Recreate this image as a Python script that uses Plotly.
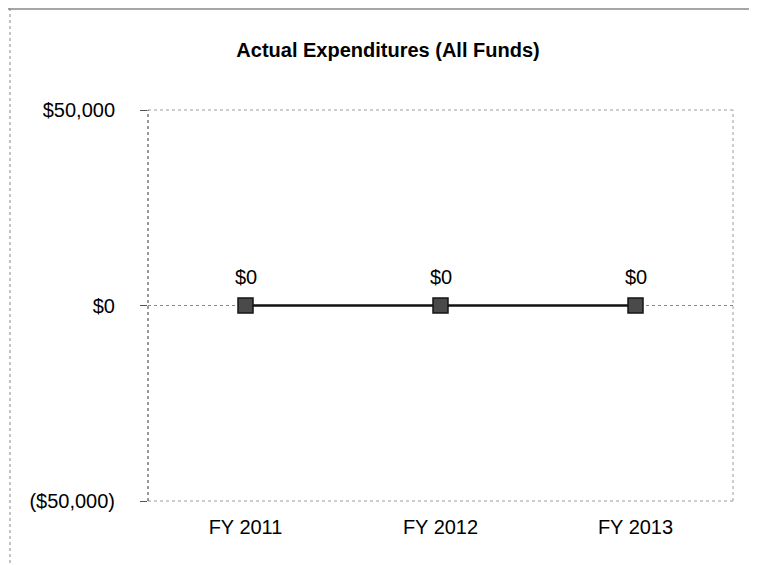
import plotly.graph_objects as go

categories = ["FY 2011", "FY 2012", "FY 2013"]
values = [0, 0, 0]
value_labels = ["$0", "$0", "$0"]
y_tick_vals = [-50000, 0, 50000]
y_tick_text = ["($50,000)", "$0", "$50,000"]
title_text = "<b>Actual Expenditures (All Funds)</b>"

W, H = 757, 565
L, R, T, B = 140, 32, 102, 72
pw, ph = W - L - R, H - T - B

def px_x(p):
    return (p - L) / pw

def px_y(p):
    return 1 - (p - T) / ph

FONT = "Liberation Sans, Arial, sans-serif"
GRID = "#9c9c9c"

fig = go.Figure()
fig.add_trace(go.Scatter(
    x=categories, y=values, mode="lines+markers",
    line=dict(color="#111", width=2.5),
    marker=dict(symbol="square", size=15, color="#4a4a4a", line=dict(color="#151515", width=1.5)),
    cliponaxis=False, showlegend=False,
))

annotations = [
    dict(x=c, y=v, xref="x", yref="y", text=t, showarrow=False, yshift=29,
         font=dict(family=FONT, size=20, color="#000"))
    for c, v, t in zip(categories, values, value_labels)
]

shapes = [
    # plot frame: top, bottom, right (dotted gray)
    dict(type="line", xref="paper", yref="paper", x0=0, x1=1, y0=1, y1=1,
         line=dict(color=GRID, width=1, dash="dot")),
    dict(type="line", xref="paper", yref="paper", x0=0, x1=1, y0=0, y1=0,
         line=dict(color=GRID, width=1, dash="dot")),
    dict(type="line", xref="paper", yref="paper", x0=1, x1=1, y0=0, y1=1,
         line=dict(color=GRID, width=1, dash="dot")),
    # zero line (x axis crossing)
    dict(type="line", xref="paper", yref="y", x0=0, x1=1, y0=0, y1=0,
         line=dict(color="#888", width=1, dash="dot"), layer="below"),
    # left value axis
    dict(type="line", xref="paper", yref="paper", x0=0, x1=0, y0=0, y1=1,
         line=dict(color="#555", width=1.2, dash="dot")),
    # outer chart border
    dict(type="line", xref="paper", yref="paper", x0=px_x(2), x1=px_x(2), y0=px_y(0), y1=px_y(H),
         line=dict(color="#888", width=1, dash="dot")),
    dict(type="line", xref="paper", yref="paper", x0=px_x(0), x1=px_x(W), y0=px_y(1), y1=px_y(1),
         line=dict(color="#888", width=1.5)),
    dict(type="line", xref="paper", yref="paper", x0=px_x(753), x1=px_x(753), y0=px_y(0), y1=px_y(H),
         line=dict(color="#333", width=3)),
]

fig.update_layout(
    width=W, height=H,
    margin=dict(l=L, r=R, t=T, b=B),
    paper_bgcolor="white", plot_bgcolor="white",
    font=dict(family=FONT, size=20, color="#000"),
    title=dict(text=title_text, x=380 / W, xanchor="center", y=1 - 42 / H, yanchor="middle",
               font=dict(family=FONT, size=20, color="#000")),
    xaxis=dict(
        type="category", range=[-0.5, 2.5], showgrid=False, zeroline=False,
        showline=False, ticks="", ticklabelstandoff=12,
        tickfont=dict(family=FONT, size=20, color="#000"),
    ),
    yaxis=dict(
        range=[-50000, 50000], tickvals=y_tick_vals, ticktext=y_tick_text,
        showgrid=False, zeroline=False, showline=False,
        ticks="outside", ticklen=7, tickcolor="#555", ticklabelstandoff=21,
        tickfont=dict(family=FONT, size=20, color="#000"),
    ),
    annotations=annotations,
    shapes=shapes,
)

fig.write_html("out.html")
